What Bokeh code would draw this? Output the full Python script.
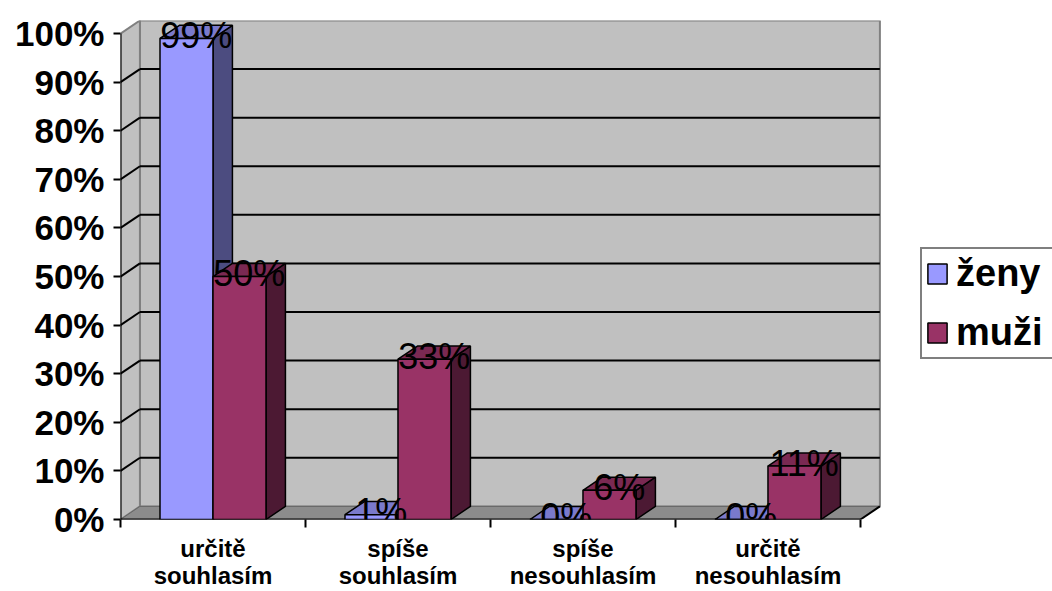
from bokeh.plotting import figure
from bokeh.models import FixedTicker, Legend, LegendItem
from bokeh.core.properties import value
from bokeh.embed import file_html
from bokeh.resources import INLINE

# ---- data ----
categories = ["určitě\nsouhlasím", "spíše\nsouhlasím", "spíše\nnesouhlasím", "určitě\nnesouhlasím"]
zeny = [99, 1, 0, 0]
muzi = [50, 33, 6, 11]
series_names = ["ženy", "muži"]
y_ticks = [0, 10, 20, 30, 40, 50, 60, 70, 80, 90, 100]
y_tick_labels = ["0%", "10%", "20%", "30%", "40%", "50%", "60%", "70%", "80%", "90%", "100%"]

# ---- style ----
FONT = "Liberation Sans"
DX = 0.105   # depth offset in category units
DY = 2.7     # depth offset in percent units
BW = 0.2865  # bar width in category units
N = len(categories)
YMAX = 100
X_END = 5.038  # frame extends to the right to hold the legend

colors = {
    "ženy": ("#9999FF", "#7A7ACC", "#4C4C80"),
    "muži": ("#993366", "#7A2952", "#4C1933"),
}

p = figure(width=1052, height=591, x_range=(0, X_END), y_range=(0, YMAX + DY),
           output_backend="svg", toolbar_location=None,
           min_border_left=120, min_border_right=0, min_border_top=20, min_border_bottom=71)
p.grid.visible = False
p.outline_line_color = None
p.background_fill_color = "white"

# walls and floor
p.patch([DX, N + DX, N + DX, DX], [DY, DY, YMAX + DY, YMAX + DY],
        fill_color="#C0C0C0", line_color="#808080", line_width=2)
p.patch([0, DX, DX, 0], [0, DY, YMAX + DY, YMAX],
        fill_color="#C0C0C0", line_color="#808080", line_width=2)
p.patch([0, N, N + DX, DX], [0, 0, DY, DY], fill_color="#8C8C8C", line_color="#666666", line_width=1)

grid_vals = [v for v in y_ticks if 0 < v < YMAX]
p.segment(x0=[DX] * len(grid_vals), y0=[v + DY for v in grid_vals],
          x1=[N + DX] * len(grid_vals), y1=[v + DY for v in grid_vals],
          line_color="black", line_width=2)
p.segment(x0=[0] * len(grid_vals), y0=grid_vals,
          x1=[DX] * len(grid_vals), y1=[v + DY for v in grid_vals],
          line_color="black", line_width=2)
# front edges
p.segment(x0=[0, 0, N], y0=[0, 0, 0], x1=[0, N, N + DX], y1=[YMAX, 0, DY],
          line_color="black", line_width=2)

# bars
front_renderers = []
label_x, label_y, label_t = [], [], []
for s, (name, vals) in enumerate(zip(series_names, [zeny, muzi])):
    fc, tc, sc = colors[name]
    lefts = [i + 0.5 - BW + s * BW for i in range(N)]
    rights = [l + BW for l in lefts]
    p.patches(xs=[[r, r, r + DX, r + DX] for r in rights],
              ys=[[0, v, v + DY, DY] for v in vals],
              fill_color=sc, line_color="black", line_width=1.5)
    p.patches(xs=[[l, r, r + DX, l + DX] for l, r in zip(lefts, rights)],
              ys=[[v, v, v + DY, v + DY] for v in vals],
              fill_color=tc, line_color="black", line_width=1.5)
    fr = p.quad(left=lefts, right=rights, bottom=[0] * N, top=vals,
                fill_color=fc, line_color="black", line_width=1.5)
    front_renderers.append(fr)
    for l, v in zip(lefts, vals):
        label_x.append(l + BW / 2 + DX / 2)
        label_y.append(v)
        label_t.append(f"{v}%")

p.text(x=label_x, y=label_y, text=label_t, text_align="center", text_baseline="alphabetic",
       y_offset=-3, text_font=value(FONT), text_font_size="36px", text_color="black")

# y axis
ya = p.yaxis[0]
ya.ticker = FixedTicker(ticks=y_ticks)
ya.major_label_overrides = {t: l for t, l in zip(y_ticks, y_tick_labels)}
ya.axis_line_color = None
ya.major_tick_in = 0
ya.major_tick_out = 7
ya.major_tick_line_width = 2
ya.major_tick_line_color = "black"
ya.minor_tick_line_color = None
ya.major_label_standoff = 9
ya.major_label_text_font = FONT
ya.major_label_text_font_style = "bold"
ya.major_label_text_font_size = "35px"
ya.major_label_text_color = "black"

# x axis
centers = [i + 0.5 for i in range(N)]
bounds = [float(i) for i in range(N + 1)]
xa = p.xaxis[0]
xa.ticker = FixedTicker(ticks=centers, minor_ticks=bounds)
xa.major_label_overrides = {c: lab for c, lab in zip(centers, categories)}
xa.axis_line_color = None
xa.major_tick_line_color = None
xa.major_tick_in = 0
xa.major_tick_out = 0
xa.minor_tick_in = 0
xa.minor_tick_out = 8
xa.minor_tick_line_width = 2
xa.minor_tick_line_color = "black"
xa.major_label_standoff = 7
xa.major_label_text_font = FONT
xa.major_label_text_font_style = "bold"
xa.major_label_text_font_size = "24px"
xa.major_label_text_line_height = 1.0
xa.major_label_text_color = "black"

legend = Legend(items=[LegendItem(label=n, renderers=[r]) for n, r in zip(series_names, front_renderers)],
                location=(800, 160))
legend.label_text_font = FONT
legend.label_text_font_style = "bold"
legend.label_text_font_size = "38px"
legend.label_text_color = "black"
legend.glyph_width = 24
legend.glyph_height = 25
legend.label_height = 42
legend.label_width = 100
legend.label_standoff = 7
legend.spacing = 16
legend.padding = 3
legend.margin = 0
legend.border_line_color = "black"
legend.border_line_width = 2
legend.background_fill_color = "white"
legend.background_fill_alpha = 1
p.add_layout(legend)

open("out.html", "w").write(file_html(p, INLINE))
